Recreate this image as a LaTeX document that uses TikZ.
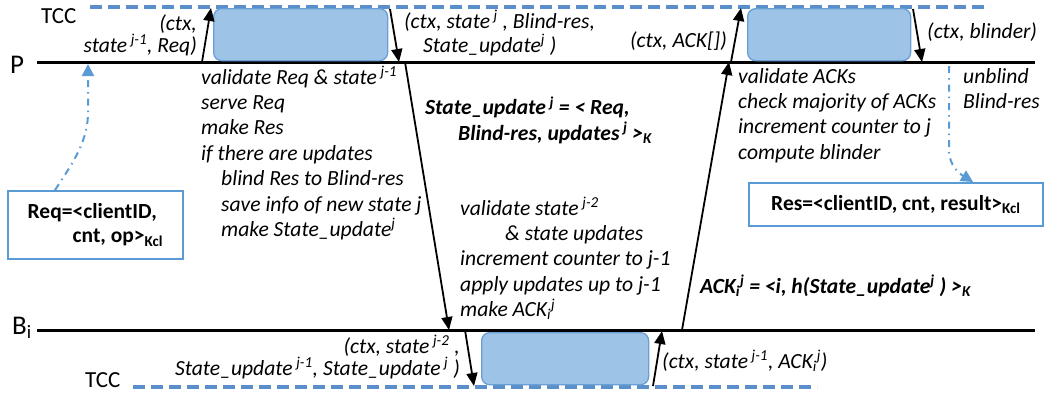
\documentclass[tikz,border=0pt]{standalone}
\usepackage{fontspec}
\setmainfont{Carlito}
\usetikzlibrary{arrows.meta}
\definecolor{tccblue}{HTML}{5B8FCB}
\definecolor{boxfill}{HTML}{9DC3E6}
\definecolor{boxdraw}{HTML}{6A9FD6}
\definecolor{msgblue}{HTML}{5B9BD5}
\newcommand\ftxt{\fontsize{21.6}{25.4}\selectfont}
\newcommand\flab{\fontsize{21.6}{22}\selectfont}
\begin{document}
\begin{tikzpicture}[x=1pt,y=-1pt,
  lifeline/.style={line width=3pt},
  tccline/.style={draw=tccblue,line width=4pt,dash pattern=on 12pt off 6pt},
  enclave/.style={draw=boxdraw,fill=boxfill,rounded corners=8pt,line width=1.3pt,inner sep=0pt,anchor=north west},
  msg/.style={line width=1.8pt,-{Triangle[length=13pt,width=11pt]}},
  flow/.style={draw=msgblue,line width=2pt,dash pattern=on 7pt off 5pt on 1.5pt off 5pt,-{Triangle[length=12pt,width=12pt]}},
  keybox/.style={draw=msgblue,line width=1.8pt,inner sep=0pt,anchor=north west,align=left,font=\fontsize{21.5}{24}\selectfont\bfseries},
  steps/.style={font=\ftxt\itshape,inner sep=0pt,align=left,anchor=base west},
  bsteps/.style={font=\ftxt\bfseries\itshape,inner sep=0pt,align=left,anchor=base west},
  lab/.style={font=\flab\itshape,inner sep=0pt,anchor=base west,align=left},
  labr/.style={font=\flab\itshape,inner sep=0pt,anchor=base east,align=right},
  party/.style={font=\fontsize{27}{27}\selectfont,inner sep=0pt,anchor=base west},
  tcclab/.style={font=\fontsize{23}{23}\selectfont,inner sep=0pt,anchor=base west}
]
\useasboundingbox (0,0) rectangle (1045,397);

% lifelines
\coordinate (pL) at (37,62);
\coordinate (pR) at (1035,62);
\coordinate (bL) at (37,330);
\coordinate (bR) at (1035,330);
\draw[lifeline] (pL) -- (pR);
\draw[lifeline] (bL) -- (bR);
\node[party] (P) at (10,73) {P};
\node[party] (B) at (12,334) {B\textsubscript{i}};

% TCC lines
\coordinate (tT1) at (90,7);
\coordinate (tT2) at (990,7);
\coordinate (tB1) at (133,387);
\coordinate (tB2) at (817,387);
\draw[tccline] (tT1) -- (tT2);
\draw[tccline] (tB1) -- (tB2);
\node[tcclab] (tccT) at (41,23) {TCC};
\node[tcclab] (tccB) at (85,387) {TCC};

% enclave boxes
\node[enclave,minimum width=174pt,minimum height=52pt] (e1) at (213,8) {};
\node[enclave,minimum width=163pt,minimum height=52pt] (e2) at (747,8) {};
\node[enclave,minimum width=167pt,minimum height=52pt] (e3) at (481,332) {};

% messages P <-> TCC
\coordinate (a1s) at (202,62); \coordinate (a1e) at (211,8);
\coordinate (a2s) at (390,9);  \coordinate (a2e) at (399,62);
\coordinate (a3s) at (731,62); \coordinate (a3e) at (741,8);
\coordinate (a4s) at (913,9);  \coordinate (a4e) at (922,62);
\draw[msg] (a1s) -- (a1e);
\draw[msg] (a2s) -- (a2e);
\draw[msg] (a3s) -- (a3e);
\draw[msg] (a4s) -- (a4e);

% messages P <-> B
\coordinate (l1s) at (405,62);  \coordinate (l1e) at (449,330);
\coordinate (l2s) at (682,330); \coordinate (l2e) at (729,62);
\draw[msg] (l1s) -- (l1e);
\draw[msg] (l2s) -- (l2e);

% messages B <-> TCC
\coordinate (b1s) at (465,330); \coordinate (b1e) at (474,386);
\coordinate (b2s) at (653,386); \coordinate (b2e) at (662,331);
\draw[msg] (b1s) -- (b1e);
\draw[msg] (b2s) -- (b2e);

% key boxes
\node[keybox,minimum width=175pt,minimum height=68pt] (req) at (7,190)
  {Req=<clientID,\\\hspace*{45pt}cnt, op>\textsubscript{Kcl}};
\node[keybox,minimum width=294pt,minimum height=43pt] (res) at (748,182)
  {Res=<clientID, cnt, result>\textsubscript{Kcl}};

% client flows
\coordinate (fin) at (88,64);
\coordinate (fout) at (949,66);
\draw[flow] (req.north west) ++(48,0) .. controls (75,160) and (88,140) .. (88,112) -- (fin);
\draw[flow] (fout) -- (949,150) .. controls (949,166) and (960,174) .. (973,182);

% labels of messages (anchor = baseline of the last line)
\node[labr,font=\fontsize{21.6}{20}\selectfont\itshape] (m1) at (197,52) {(ctx,\\state\,\textsuperscript{j-1}, Req)};
\node[lab,font=\fontsize{21.6}{24}\selectfont\itshape] (m2) at (404,52) {(ctx, state\,\textsuperscript{j} , Blind-res,\\\hspace*{19pt}State\_update\textsuperscript{j} )};
\node[labr] (m3) at (727,47) {(ctx, ACK[])};
\node[lab] (m4) at (927,38) {(ctx, blinder)};
\node[labr] (m5) at (460,375) {(ctx, state\,\textsuperscript{j-2} ,\\State\_update\,\textsuperscript{j-1}, State\_update\,\textsuperscript{j} )};
\node[lab] (m6) at (662,368) {(ctx, state\,\textsuperscript{j-1}, ACK\textsubscript{i}\textsuperscript{j})};

% steps (anchor = baseline of the last line)
\node[steps] (s1) at (201,236.4) {validate Req \& state\,\textsuperscript{j-1}\\serve Req\\make Res\\if there are updates\\\hspace*{20pt}blind Res to Blind-res\\\hspace*{20pt}save info of new state j\\\hspace*{20pt}make State\_update\textsuperscript{j}};
\node[bsteps] (su) at (425,140) {State\_update\,\textsuperscript{j} = < Req,\\\hspace*{33pt}Blind-res, updates\,\textsuperscript{j} >\textsubscript{K}};
\node[steps] (s2) at (460,316.6) {validate state\,\textsuperscript{j-2}\\\hspace*{45pt}\& state updates\\increment counter to j-1\\apply updates up to j-1\\make ACK\textsubscript{i}\textsuperscript{j}};
\node[bsteps] (ack) at (700,293) {ACK\textsubscript{i}\textsuperscript{j} = <i, h(State\_update\textsuperscript{j} ) >\textsubscript{K}};
\node[steps] (s3) at (738,159.2) {validate ACKs\\check majority of ACKs\\increment counter to j\\compute blinder};
\node[steps] (s4) at (963,108.4) {unblind\\Blind-res};
\end{tikzpicture}
\end{document}
